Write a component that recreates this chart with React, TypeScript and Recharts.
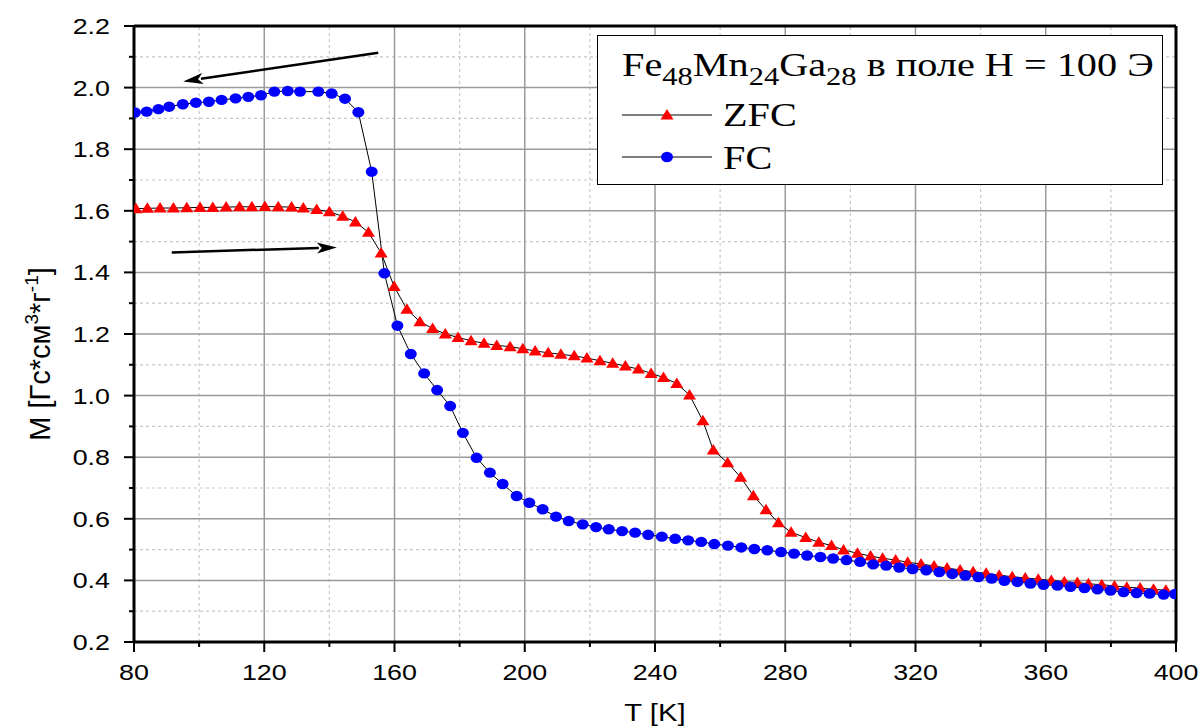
import React from "react";
import { ComposedChart, Line, XAxis, YAxis, ReferenceLine } from "recharts";

/* ---- data ---- */

const zfcT = [
  80.6, 84.1, 88.0, 92.1, 96.2, 100.3, 104.2, 108.3, 112.4, 116.2, 120.2, 124.3, 128.4, 132.0,
  136.1, 140.0, 144.1, 148.0, 152.0, 155.9, 159.9, 163.8, 167.8, 171.7, 175.6, 179.5, 183.5,
  187.5, 191.4, 195.5, 199.4, 203.2, 207.2, 211.1, 215.2, 219.1, 223.1, 227.0, 230.9, 234.9,
  238.8, 242.6, 246.7, 250.6, 254.7, 257.9, 262.3, 266.3, 270.2, 274.1, 277.9, 281.8, 286.3,
  290.3, 294.2, 297.9, 302.2, 306.2, 309.9, 313.9, 317.6, 321.7, 325.7, 329.7, 333.7, 337.7,
  341.7, 345.7, 349.7, 353.7, 357.7, 361.7, 365.7, 369.7, 373.1, 377.2, 381.1, 384.9, 389.0,
  393.1, 396.9,
];
const zfcM = [
  1.607, 1.608, 1.609, 1.609, 1.610, 1.611, 1.611, 1.612, 1.613, 1.613, 1.614, 1.613, 1.612, 1.609,
  1.604, 1.597, 1.582, 1.564, 1.530, 1.463, 1.354, 1.280, 1.240, 1.218, 1.200, 1.189, 1.178,
  1.170, 1.163, 1.159, 1.152, 1.145, 1.139, 1.134, 1.129, 1.122, 1.113, 1.105, 1.096, 1.086,
  1.072, 1.059, 1.039, 1.002, 0.918, 0.823, 0.782, 0.735, 0.675, 0.629, 0.587, 0.556, 0.539,
  0.524, 0.513, 0.499, 0.488, 0.479, 0.472, 0.466, 0.459, 0.453, 0.447, 0.440, 0.434, 0.428,
  0.423, 0.417, 0.412, 0.408, 0.404, 0.400, 0.396, 0.393, 0.389, 0.386, 0.382, 0.378, 0.375,
  0.371, 0.368,
];

const fcT = [
  80.3, 83.9, 87.5, 90.8, 95.0, 99.0, 103.0, 106.9, 111.2, 115.1, 119.0, 123.1, 127.2, 131.0,
  136.6, 140.7, 144.8, 148.9, 153.0, 156.9, 160.9, 165.0, 169.1, 173.1, 177.1, 181.0, 185.2,
  189.3, 193.2, 197.5, 201.4, 205.5, 209.6, 213.5, 217.8, 221.9, 225.8, 229.9, 233.9, 237.9,
  242.1, 246.2, 250.2, 254.2, 258.2, 262.4, 266.5, 270.5, 274.5, 278.7, 282.7, 286.7, 290.8,
  294.7, 298.8, 303.0, 307.0, 311.0, 315.0, 319.1, 323.3, 327.3, 331.3, 335.3, 339.3, 343.4,
  347.3, 351.3, 355.3, 359.3, 363.6, 367.6, 371.9, 375.9, 379.9, 383.9, 387.9, 391.9, 396.2,
  399.7,
];
const fcM = [
  1.919, 1.922, 1.930, 1.938, 1.946, 1.951, 1.954, 1.960, 1.965, 1.970, 1.975, 1.987, 1.989, 1.987,
  1.987, 1.981, 1.964, 1.920, 1.727, 1.397, 1.227, 1.135, 1.072, 1.018, 0.966, 0.879, 0.798,
  0.750, 0.713, 0.674, 0.652, 0.631, 0.607, 0.593, 0.582, 0.573, 0.566, 0.560, 0.555, 0.548,
  0.542, 0.535, 0.530, 0.525, 0.518, 0.513, 0.507, 0.502, 0.498, 0.492, 0.487, 0.481, 0.476,
  0.471, 0.466, 0.460, 0.452, 0.448, 0.442, 0.437, 0.433, 0.427, 0.421, 0.416, 0.411, 0.406,
  0.399, 0.395, 0.390, 0.386, 0.383, 0.379, 0.375, 0.371, 0.367, 0.362, 0.359, 0.357, 0.354,
  0.356,
];

const xTicks = [80, 100, 120, 140, 160, 180, 200, 220, 240, 260, 280, 300, 320, 340, 360, 380, 400];
const yTicks = [0.2, 0.3, 0.4, 0.5, 0.6, 0.7, 0.8, 0.9, 1.0, 1.1, 1.2, 1.3, 1.4, 1.5, 1.6, 1.7, 1.8, 1.9, 2.0, 2.1, 2.2];
const xMajorGrid = [120, 160, 200, 240, 280, 320, 360];
const xMinorGrid = [100, 140, 180, 220, 260, 300, 340, 380];
const yMajorGrid = [0.4, 0.6, 0.8, 1.0, 1.2, 1.4, 1.6, 1.8, 2.0];
const yMinorGrid = [0.3, 0.5, 0.7, 0.9, 1.1, 1.3, 1.5, 1.7, 1.9, 2.1];

// annotation arrows (cooling / heating direction), [tail, head]
const arrowFC = [{ x: 155.0, y: 2.113 }, { x: 95.1, y: 2.02 }];
const arrowZFC = [{ x: 91.6, y: 1.465 }, { x: 142.3, y: 1.481 }];

const zfc = zfcT.map((T, i) => ({ T, M: zfcM[i] }));
const fc = fcT.map((T, i) => ({ T, M: fcM[i] }));

const SANS = "'Liberation Sans', Arial, sans-serif";
const SERIF = "'Liberation Serif', 'Times New Roman', serif";
const SX = 1.22; // the source figure is stretched horizontally

/* ---- markers ---- */

const Tri = ({ cx, cy }: any) =>
  cx == null || cy == null ? null : (
    <polygon points={`${cx},${cy - 6} ${cx + 6.5},${cy + 4.5} ${cx - 6.5},${cy + 4.5}`} fill="#ff0000" />
  );

const Dot = ({ cx, cy }: any) =>
  cx == null || cy == null ? null : <ellipse cx={cx} cy={cy} rx={6} ry={5.2} fill="#0000ff" />;

/* ---- axis ticks ---- */

const XTick = ({ x, y, payload }: any) => {
  const v = payload.value;
  const major = v % 40 === 0;
  return (
    <g>
      <line x1={x} x2={x} y1={y} y2={y + (major ? 10 : 5)} stroke="#000" strokeWidth={2} />
      {major && (
        <text transform={`translate(${x},${y + 38}) scale(${SX},1)`} textAnchor="middle"
          fontSize={22} fontFamily={SANS} fill="#000">{v}</text>
      )}
    </g>
  );
};

const YTick = ({ x, y, payload }: any) => {
  const v = payload.value;
  const major = Math.round(v * 10) % 2 === 0;
  return (
    <g>
      <line x1={x - (major ? 10 : 5)} x2={x} y1={y} y2={y} stroke="#000" strokeWidth={2} />
      {major && (
        <text transform={`translate(${x - 24},${y + 8}) scale(${SX},1)`} textAnchor="end"
          fontSize={22} fontFamily={SANS} fill="#000">{v.toFixed(1)}</text>
      )}
    </g>
  );
};

/* ---- arrow shape for ReferenceLine segments ---- */

const Arrow = (props: any) => {
  const { x1, y1, x2, y2 } = props;
  if ([x1, y1, x2, y2].some(v => v == null || isNaN(v))) return null;
  const dx = x2 - x1, dy = y2 - y1;
  const len = Math.hypot(dx, dy);
  const ux = dx / len, uy = dy / len;
  const hl = 20, hw = 5.5;
  const bx = x2 - ux * hl, by = y2 - uy * hl;
  return (
    <g>
      <line x1={x1} y1={y1} x2={bx + ux * 2} y2={by + uy * 2} stroke="#000" strokeWidth={2.5} />
      <polygon
        points={`${x2},${y2} ${bx - uy * hw},${by + ux * hw} ${bx + ux * 5},${by + uy * 5} ${bx + uy * hw},${by - ux * hw}`}
        fill="#000"
      />
    </g>
  );
};

/* ---- legend box ---- */

const LegendBox = () => (
  <div style={{
    position: "absolute", left: 597, top: 35, width: 566, height: 150,
    border: "1.5px solid #000", boxSizing: "border-box", background: "#fff",
  }}>
    <svg width={563} height={147} style={{ display: "block" }}>
      <text transform={`translate(24,40) scale(${SX},1)`} fontSize={33} fontFamily={SERIF} fill="#000">
        Fe<tspan dy={9} fontSize={25}>48</tspan>
        <tspan dy={-9}>Mn</tspan><tspan dy={9} fontSize={25}>24</tspan>
        <tspan dy={-9}>Ga</tspan><tspan dy={9} fontSize={25}>28</tspan>
        <tspan dy={-9}> в поле H = 100 Э</tspan>
      </text>
      <line x1={24} x2={114} y1={79} y2={79} stroke="#000" strokeWidth={1} />
      <Tri cx={69} cy={79} />
      <text transform={`translate(125,90) scale(${SX},1)`} fontSize={33} fontFamily={SERIF} fill="#000">ZFC</text>
      <line x1={24} x2={114} y1={121} y2={121} stroke="#000" strokeWidth={1} />
      <Dot cx={69} cy={121} />
      <text transform={`translate(125,133) scale(${SX},1)`} fontSize={33} fontFamily={SERIF} fill="#000">FC</text>
    </svg>
  </div>
);

export default function App() {
  return (
    <div style={{ position: "absolute", left: 0, top: 0, width: 1202, height: 728, background: "#fff" }}>
      <ComposedChart width={1202} height={728} margin={{ top: 26, right: 26, bottom: 0, left: 0 }}>
        <XAxis
          type="number" dataKey="T" domain={[80, 400]} ticks={xTicks} interval={0}
          allowDataOverflow height={86} tickSize={0} tickMargin={0} tickLine={false}
          axisLine={{ stroke: "#000", strokeWidth: 3 }}
          tick={<XTick />}
          label={{
            content: ({ viewBox }: any) => (
              <text transform={`translate(${viewBox.x + viewBox.width / 2},721) scale(${SX},1)`}
                textAnchor="middle" fontSize={24} fontFamily={SANS} fill="#000">T [K]</text>
            ),
          }}
        />
        <YAxis
          type="number" domain={[0.2, 2.2]} ticks={yTicks} interval={0}
          allowDataOverflow width={134} tickSize={0} tickMargin={0} tickLine={false}
          axisLine={{ stroke: "#000", strokeWidth: 3 }}
          tick={<YTick />}
          label={{
            content: () => (
              <text transform="translate(50,354) rotate(-90)" textAnchor="middle"
                fontSize={29} fontFamily={SANS} fill="#000">
                M [Гс*см<tspan dy={-12} fontSize={19}>3</tspan>
                <tspan dy={12}>*г</tspan><tspan dy={-12} fontSize={19}>-1</tspan>
                <tspan dy={12}>]</tspan>
              </text>
            ),
          }}
        />

        {xMinorGrid.map(v => (
          <ReferenceLine key={`xm${v}`} x={v} stroke="#c8c8c8" strokeWidth={1.2} strokeDasharray="3 3" />
        ))}
        {yMinorGrid.map(v => (
          <ReferenceLine key={`ym${v}`} y={v} stroke="#c8c8c8" strokeWidth={1.2} strokeDasharray="3 3" />
        ))}
        {xMajorGrid.map(v => (
          <ReferenceLine key={`xM${v}`} x={v} stroke="#9a9a9a" strokeWidth={1.5} />
        ))}
        {yMajorGrid.map(v => (
          <ReferenceLine key={`yM${v}`} y={v} stroke="#9a9a9a" strokeWidth={1.5} />
        ))}
        <ReferenceLine y={2.2} stroke="#000" strokeWidth={3} />
        <ReferenceLine x={400} stroke="#000" strokeWidth={3} />

        <ReferenceLine segment={arrowFC} shape={<Arrow />} />
        <ReferenceLine segment={arrowZFC} shape={<Arrow />} />

        <Line data={zfc} dataKey="M" type="linear" stroke="#000" strokeWidth={1}
          dot={<Tri />} activeDot={false} isAnimationActive={false} />
        <Line data={fc} dataKey="M" type="linear" stroke="#000" strokeWidth={1}
          dot={<Dot />} activeDot={false} isAnimationActive={false} />
      </ComposedChart>
      <LegendBox />
    </div>
  );
}
